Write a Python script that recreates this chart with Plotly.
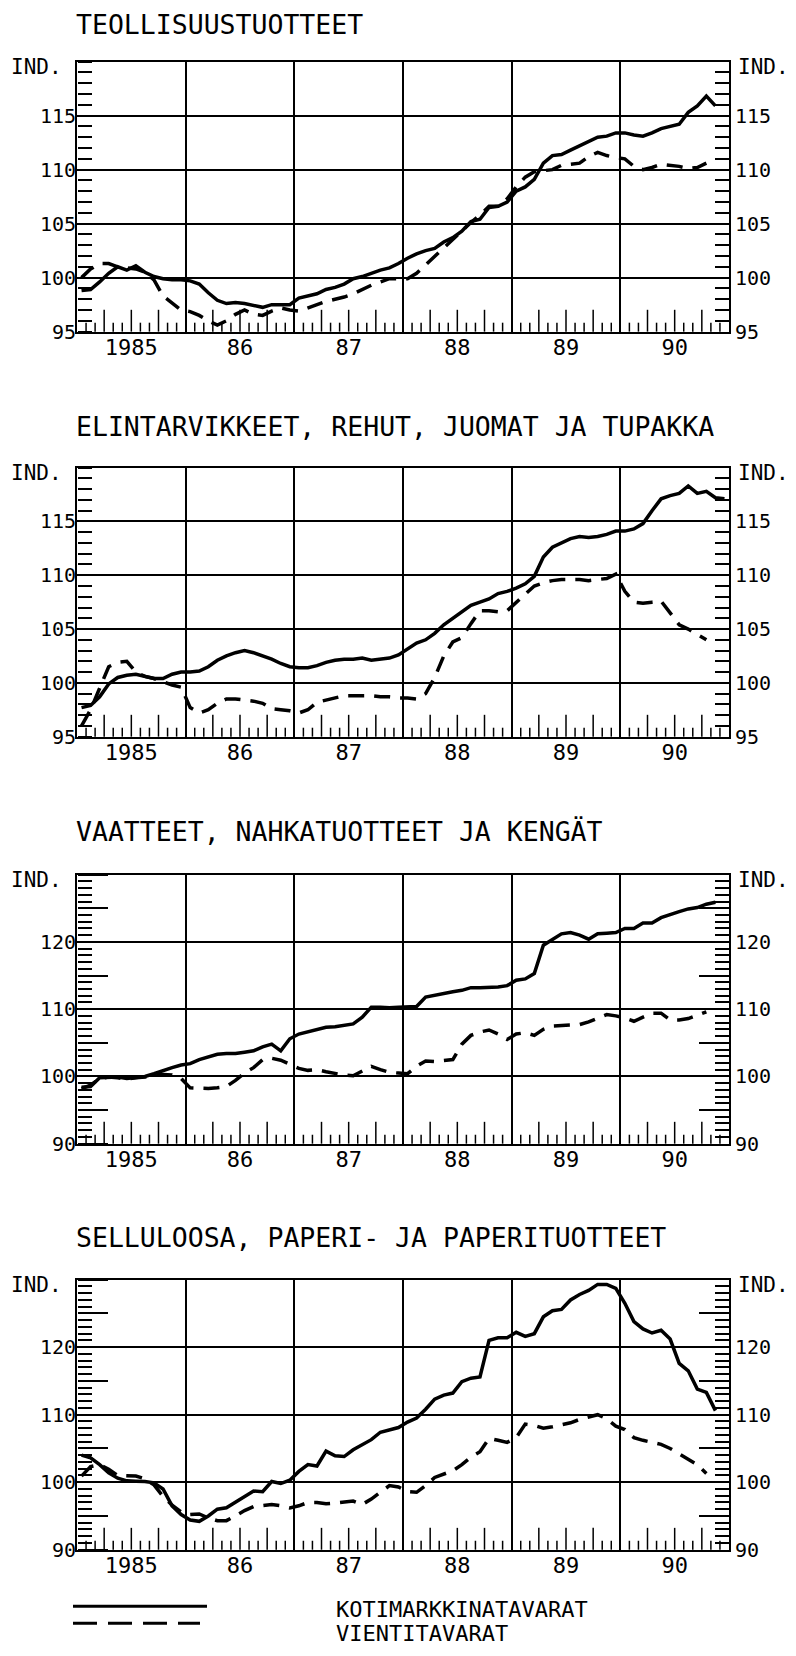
import plotly.graph_objects as go

# ---------------- data ----------------
years = [1985, 1986, 1987, 1988, 1989, 1990]
year_labels = ["1985", "86", "87", "88", "89", "90"]
months = [y + (m - 0.5) / 12 for y in years for m in range(1, 13)]

titles = [
    "TEOLLISUUSTUOTTEET",
    "ELINTARVIKKEET, REHUT, JUOMAT JA TUPAKKA",
    "VAATTEET, NAHKATUOTTEET JA KENGÄT",
    "SELLULOOSA, PAPERI- JA PAPERITUOTTEET",
]
series_names = ["KOTIMARKKINATAVARAT", "VIENTITAVARAT"]

teol_koti = [98.8, 98.9, 99.6, 100.4, 101.0, 100.7, 101.1, 100.5, 100.1, 99.9, 99.8, 99.8,
             99.7, 99.4, 98.6, 97.9, 97.6, 97.7, 97.6, 97.4, 97.25, 97.5, 97.5, 97.5,
             98.1, 98.3, 98.5, 98.9, 99.1, 99.4, 99.9, 100.1, 100.4, 100.7, 100.9, 101.3,
             101.8, 102.2, 102.5, 102.7, 103.3, 103.7, 104.3, 105.2, 105.4, 106.5, 106.6, 107.0,
             108.0, 108.4, 109.1, 110.6, 111.3, 111.4, 111.8, 112.2, 112.6, 113.0, 113.1, 113.4,
             113.4, 113.2, 113.1, 113.4, 113.8, 114.0, 114.2, 115.3, 115.9, 116.8, 115.9]
teol_vienti = [100.0, 100.8, 101.3, 101.3, 101.0, 100.9, 100.8, 100.5, 99.8, 98.3, 97.6, 97.0,
               96.85, 96.5, 96.0, 95.6, 96.0, 96.6, 97.0, 96.6, 96.5, 96.9, 97.2, 97.0,
               96.9, 97.2, 97.5, 97.8, 98.0, 98.2, 98.5, 98.9, 99.3, 99.6, 99.9, 99.9,
               99.9, 100.4, 101.2, 102.0, 102.8, 103.5, 104.3, 105.1, 105.8, 106.6, 106.6, 107.3,
               108.4, 109.3, 109.8, 109.9, 110.0, 110.4, 110.5, 110.6, 111.2, 111.6, 111.3, 111.1,
               111.0, 110.3, 110.0, 110.2, 110.5, 110.4, 110.3, 110.1, 110.2, 110.6]

elin_koti = [97.7, 97.9, 98.7, 99.9, 100.5, 100.7, 100.8, 100.6, 100.4, 100.4, 100.8, 101.0,
             101.0, 101.1, 101.5, 102.1, 102.5, 102.8, 103.0, 102.8, 102.5, 102.2, 101.8, 101.5,
             101.4, 101.4, 101.6, 101.9, 102.1, 102.2, 102.2, 102.3, 102.1, 102.2, 102.3, 102.6,
             103.2, 103.7, 104.0, 104.6, 105.4, 106.0, 106.5, 107.2, 107.5, 107.8, 108.3, 108.5,
             108.8, 109.2, 109.9, 111.7, 112.6, 113.0, 113.4, 113.6, 113.5, 113.6, 113.8, 114.1,
             114.1, 114.3, 114.8, 116.0, 117.1, 117.4, 117.6, 118.3, 117.6, 117.8, 117.2, 117.1]
elin_vienti = [96.0, 97.5, 99.5, 101.5, 101.9, 102.0, 101.0, 100.6, 100.4, 100.1, 99.8, 99.6,
               97.7, 97.2, 97.5, 98.1, 98.5, 98.5, 98.4, 98.3, 98.1, 97.6, 97.5, 97.4,
               97.2, 97.5, 98.2, 98.4, 98.6, 98.8, 98.8, 98.8, 98.8, 98.7, 98.7, 98.6,
               98.6, 98.5, 99.0, 100.5, 102.5, 103.8, 104.2, 105.5, 106.7, 106.7, 106.6, 106.7,
               107.5, 108.3, 109.0, 109.3, 109.5, 109.6, 109.6, 109.6, 109.5, 109.6, 109.7, 110.1,
               108.5, 107.5, 107.4, 107.5, 107.6, 106.5, 105.4, 105.0, 104.5, 104.0]

vaat_koti = [98.4, 98.5, 99.8, 99.9, 99.9, 99.7, 99.9, 100.0, 100.4, 100.9, 101.3, 101.7,
             101.9, 102.5, 102.9, 103.3, 103.4, 103.4, 103.6, 103.8, 104.4, 104.8, 103.8, 105.6,
             106.3, 106.6, 107.0, 107.3, 107.4, 107.6, 107.8, 108.8, 110.3, 110.3, 110.2, 110.3,
             110.3, 110.4, 111.8, 112.1, 112.4, 112.6, 112.8, 113.2, 113.2, 113.2, 113.3, 113.5,
             114.3, 114.5, 115.3, 119.5, 120.4, 121.2, 121.4, 121.0, 120.4, 121.2, 121.3, 121.4,
             122.0, 122.0, 122.8, 122.8, 123.6, 124.1, 124.5, 124.9, 125.1, 125.6, 125.9]
vaat_vienti = [98.2, 98.7, 99.7, 99.9, 99.8, 99.6, 99.8, 99.9, 100.2, 100.3, 100.2, 99.7,
               98.3, 98.2, 98.2, 98.3, 98.5, 99.4, 100.5, 101.3, 102.5, 102.7, 102.4, 101.8,
               101.2, 100.9, 101.0, 100.7, 100.4, 100.2, 100.1, 100.8, 101.5, 101.0, 100.6, 100.5,
               100.4, 101.5, 102.3, 102.2, 102.3, 102.5, 104.8, 106.1, 106.6, 106.9, 106.3, 105.5,
               106.3, 106.5, 106.1, 107.0, 107.5, 107.6, 107.6, 107.7, 108.1, 108.6, 109.2, 109.0,
               108.7, 108.2, 108.8, 109.4, 109.4, 108.4, 108.4, 108.6, 109.1, 109.6]

sell_koti = [104.0, 103.6, 102.6, 101.4, 100.6, 100.2, 100.15, 100.1, 99.9, 99.0, 96.5, 95.2,
             94.4, 94.2, 95.0, 96.0, 96.2, 97.0, 97.9, 98.7, 98.6, 100.1, 99.8, 100.3,
             101.6, 102.6, 102.4, 104.6, 103.9, 103.8, 104.8, 105.5, 106.3, 107.4, 107.8, 108.1,
             108.9, 109.5, 110.8, 112.3, 112.9, 113.2, 114.9, 115.4, 115.6, 121.0, 121.4, 121.4,
             122.2, 121.6, 122.0, 124.5, 125.4, 125.6, 127.0, 127.8, 128.4, 129.3, 129.3, 128.7,
             126.5, 123.8, 122.7, 122.1, 122.5, 121.2, 117.6, 116.5, 113.8, 113.3, 110.6]
sell_vienti = [100.9, 102.3, 102.6, 101.9, 101.0, 100.9, 100.9, 100.5, 99.6, 97.9, 96.6, 95.6,
               95.2, 95.3, 94.7, 94.3, 94.3, 95.0, 95.8, 96.4, 96.6, 96.7, 96.5, 96.2,
               96.5, 97.0, 97.0, 96.8, 96.9, 97.0, 97.2, 96.7, 97.5, 98.5, 99.5, 99.3,
               98.6, 98.5, 99.5, 100.7, 101.2, 101.7, 102.6, 103.7, 104.5, 106.5, 106.2, 105.9,
               106.6, 108.6, 108.4, 108.0, 108.2, 108.5, 108.8, 109.3, 109.6, 110.0, 109.4, 108.3,
               107.8, 106.6, 106.2, 105.9, 105.6, 105.0, 104.2, 103.5, 102.6, 101.3]

panels = [
    dict(title=titles[0], koti=teol_koti, vienti=teol_vienti, yr=(95, 120), step=5, long=14),
    dict(title=titles[1], koti=elin_koti, vienti=elin_vienti, yr=(95, 120), step=5, long=14),
    dict(title=titles[2], koti=vaat_koti, vienti=vaat_vienti, yr=(90, 130), step=10, long=30),
    dict(title=titles[3], koti=sell_koti, vienti=sell_vienti, yr=(90, 130), step=10, long=30),
]

# ---------------- layout geometry ----------------
# target positions are in window pixels; the page body has an 8px margin,
# so the figure itself is offset by OFF and sized to fit the window.
OFF = 8
WIN_W, WIN_H = 796, 1656
FW, FH = WIN_W - OFF, WIN_H - OFF
X0, X1 = 77, 729
boxes = [(62, 334), (471, 742), (881, 1152), (1289, 1561)]
title_y = [25, 430, 838, 1247]
MONO = "DejaVu Sans Mono"
BLACK = "black"
QUARTER_LEN, MONTH_LEN = 22, 9


def px(sx):
    return (sx - OFF) / FW


def py(sy):
    return 1 - (sy - OFF) / FH


def xr(n):
    return "x" if n == 1 else f"x{n}"


def yr_(n):
    return "y" if n == 1 else f"y{n}"


def xname(n):
    return "xaxis" if n == 1 else f"xaxis{n}"


def yname(n):
    return "yaxis" if n == 1 else f"yaxis{n}"


fig = go.Figure()
layout = {}
annotations = []
shapes = []

xdom = [px(X0), px(X1)]
quarters = [y + q / 4 for y in years for q in (1, 2, 3)]
month_ticks = [y + m / 12 for y in years for m in range(1, 12) if m % 3 != 0]
tickstyle = dict(tickwidth=1.5, tickcolor=BLACK)

for i, p in enumerate(panels, start=1):
    top, bot = boxes[i - 1]
    ydom = [py(bot), py(top)]
    lo, hi = p["yr"]
    labels = list(range(lo, hi, p["step"]))
    fives = list(range(lo, hi + 1, 5))
    units = [u for u in range(lo + 1, hi) if u % 5 != 0]
    tick_text = [str(u) if (u in labels) else "" for u in fives]

    fig.add_trace(go.Scatter(x=months[:len(p["koti"])], y=p["koti"], mode="lines",
                             name=series_names[0],
                             line=dict(color=BLACK, width=3.5),
                             xaxis=xr(i), yaxis=yr_(i), showlegend=False, hoverinfo="skip"))
    fig.add_trace(go.Scatter(x=months[:len(p["vienti"])], y=p["vienti"], mode="lines",
                             name=series_names[1],
                             line=dict(color=BLACK, width=3.5, dash="16px,10px"),
                             xaxis=xr(i), yaxis=yr_(i), showlegend=False, hoverinfo="skip"))
    # empty helper traces so the overlay axes get drawn
    for xa, ya in [(xr(i + 4), yr_(i)), (xr(i), yr_(i + 4)), (xr(i), yr_(i + 8)),
                   (xr(i), yr_(i + 12))]:
        fig.add_trace(go.Scatter(x=[None], y=[None], mode="lines", xaxis=xa, yaxis=ya,
                                 showlegend=False, hoverinfo="skip"))

    # data x axis: the box (bottom + top lines)
    layout[xname(i)] = dict(
        domain=xdom, range=[1985, 1991], anchor=yr_(i), side="bottom",
        ticks="", showticklabels=False, showgrid=False, zeroline=False,
        showline=True, linecolor=BLACK, linewidth=2, mirror=True,
        fixedrange=True,
    )
    # overlay x axis: year labels + year gridlines
    layout[xname(i + 4)] = dict(
        domain=xdom, range=[1985, 1991], anchor=yr_(i), overlaying=xr(i), side="bottom",
        tickmode="array", tickvals=[y + 0.5 for y in years], ticktext=year_labels,
        ticks="", showgrid=False, zeroline=False, showline=False,
        tickfont=dict(family=MONO, size=22, color=BLACK),
        minor=dict(tickmode="array", tickvals=years[1:], showgrid=True,
                   gridcolor=BLACK, gridwidth=1.5, ticks=""),
        fixedrange=True,
    )
    # bottom-edge quarter and month ticks, placed on the x scale of this panel
    panel_h = bot - top
    for vals, ln in ((quarters, QUARTER_LEN), (month_ticks, MONTH_LEN)):
        for v in vals:
            shapes.append(dict(type="line", xref=xr(i), yref=f"{yr_(i)} domain",
                               x0=v, x1=v, y0=0, y1=ln / panel_h,
                               line=dict(color=BLACK, width=1.5)))
    # data y axis: right labels + right-edge ticks + box (left/right lines)
    layout[yname(i)] = dict(
        domain=ydom, range=[lo, hi], anchor=xr(i), side="right",
        tickmode="array", tickvals=fives, ticktext=tick_text,
        ticks="inside", ticklen=p["long"], **tickstyle,
        showgrid=False, zeroline=False,
        showline=True, linecolor=BLACK, linewidth=2, mirror=True,
        tickfont=dict(family=MONO, size=20, color=BLACK),
        minor=dict(tickmode="array", tickvals=units, ticks="inside", ticklen=14,
                   showgrid=False, **tickstyle),
        fixedrange=True,
    )
    # overlay y axis: left labels
    layout[yname(i + 4)] = dict(
        domain=ydom, range=[lo, hi], anchor=xr(i), overlaying=yr_(i), side="left",
        tickmode="array", tickvals=fives, ticktext=tick_text,
        ticks="", showgrid=False, zeroline=False, showline=False,
        tickfont=dict(family=MONO, size=20, color=BLACK),
        fixedrange=True,
    )
    # overlay y axis: horizontal gridlines
    layout[yname(i + 8)] = dict(
        domain=ydom, range=[lo, hi], anchor=xr(i), overlaying=yr_(i), side="left",
        tickmode="array", tickvals=labels, ticks="", showticklabels=False,
        showgrid=True, gridcolor=BLACK, gridwidth=1.5, zeroline=False, showline=False,
        fixedrange=True,
    )
    # overlay y axis placed on the left edge: ticks pointing right into the plot
    layout[yname(i + 12)] = dict(
        domain=ydom, range=[lo, hi], anchor="free", position=px(X0),
        overlaying=yr_(i), side="right",
        tickmode="array", tickvals=fives, ticks="outside", ticklen=p["long"], **tickstyle,
        showticklabels=False, showgrid=False, zeroline=False, showline=False,
        minor=dict(tickmode="array", tickvals=units, ticks="outside", ticklen=14,
                   showgrid=False, **tickstyle),
        fixedrange=True,
    )

    annotations.append(dict(text=p["title"], xref="paper", yref="paper",
                            x=px(X0 - 3), y=py(title_y[i - 1]),
                            xanchor="left", yanchor="middle", showarrow=False,
                            font=dict(family=MONO, size=26.5, color=BLACK)))
    annotations.append(dict(text="IND.", xref="paper", yref="paper", x=px(64), y=py(top + 5),
                            xanchor="right", yanchor="middle", showarrow=False,
                            font=dict(family=MONO, size=21, color=BLACK)))
    annotations.append(dict(text="IND.", xref="paper", yref="paper", x=px(736), y=py(top + 5),
                            xanchor="left", yanchor="middle", showarrow=False,
                            font=dict(family=MONO, size=21, color=BLACK)))

# legend key (drawn to match the printed key below the last panel)
legend_rows = [(1618, "solid", 207), (1635, "24px,11px", 200)]
legend_text_y = [1621, 1645]
for (sy, dash, xend), ty, name in zip(legend_rows, legend_text_y, series_names):
    shapes.append(dict(type="line", xref="paper", yref="paper",
                       x0=px(73), x1=px(xend), y0=py(sy), y1=py(sy),
                       line=dict(color=BLACK, width=3, dash=dash)))
    annotations.append(dict(text=name, xref="paper", yref="paper", x=px(334),
                            y=py(ty), xanchor="left", yanchor="middle", showarrow=False,
                            font=dict(family=MONO, size=22, color=BLACK)))

fig.update_layout(
    width=FW, height=FH, autosize=False,
    margin=dict(l=0, r=0, t=0, b=0),
    paper_bgcolor="white", plot_bgcolor="white",
    showlegend=False, hovermode=False,
    annotations=annotations, shapes=shapes,
    **layout,
)

fig.write_html("out.html", config={"displayModeBar": False})
